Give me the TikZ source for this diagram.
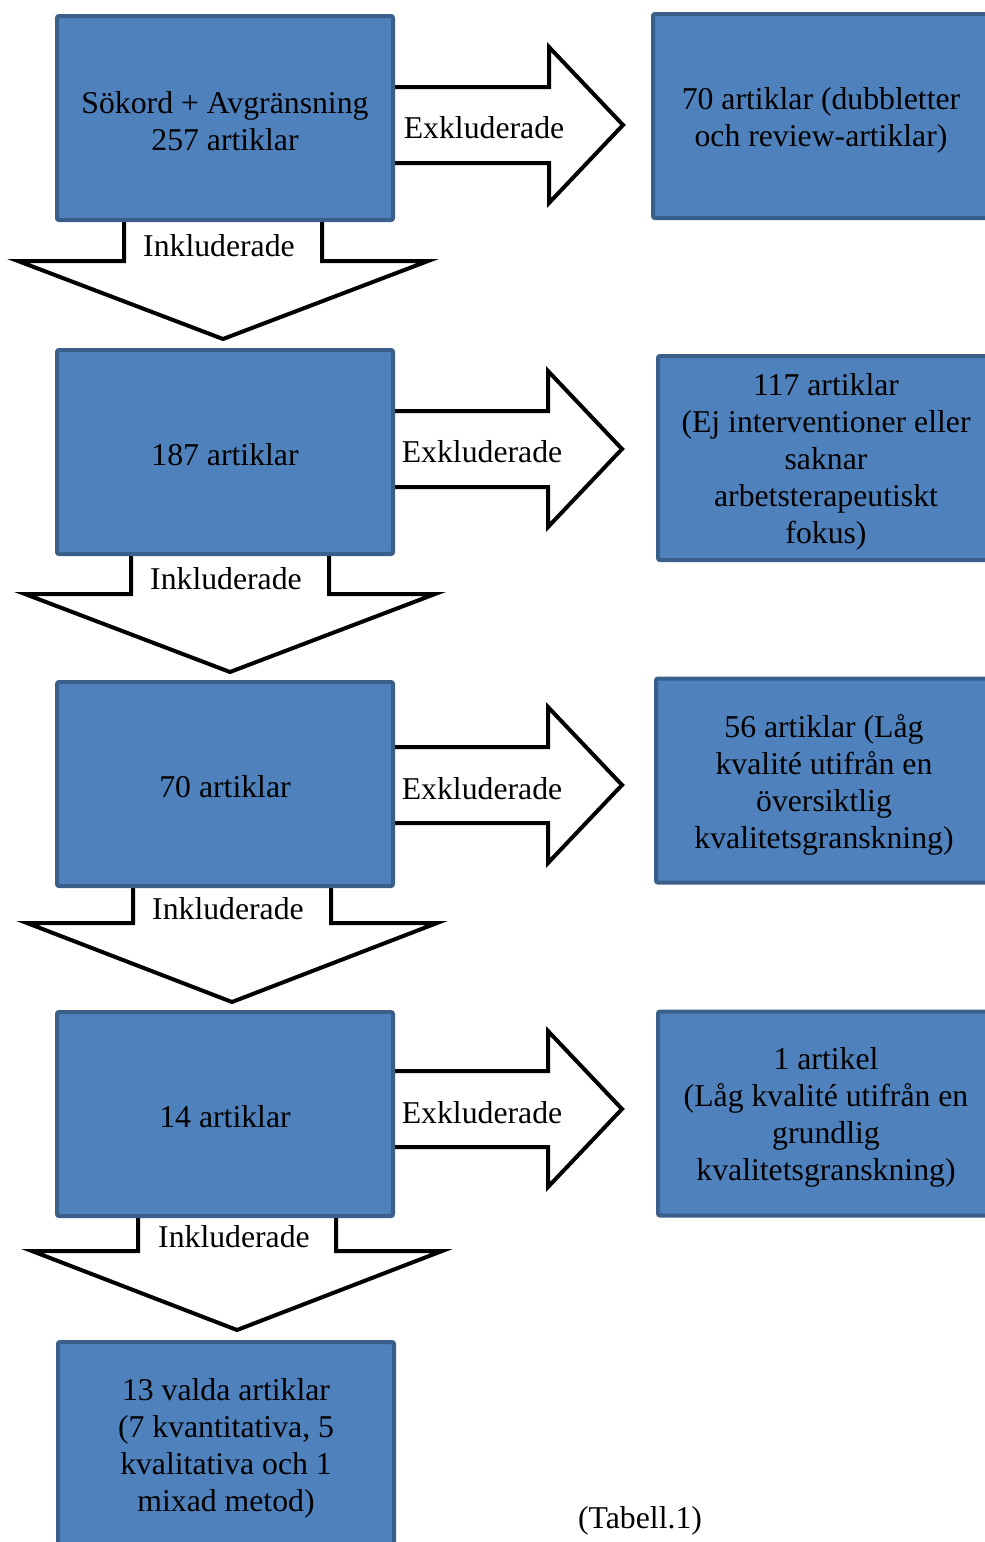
\documentclass[tikz,border=0pt]{standalone}
\usepackage{fontspec}
\setmainfont{Liberation Serif}
\usetikzlibrary{calc}
\definecolor{boxfill}{HTML}{4F81BD}
\definecolor{boxline}{HTML}{3A5F8B}

\begin{document}
\begin{tikzpicture}[x=0.75pt,y=0.75pt,yscale=-1,xscale=1,
  box/.style={draw=boxline, fill=boxfill, line width=3pt, rounded corners=1.5pt,
    minimum width=252pt, minimum height=153pt, inner sep=0pt},
  boxtext/.style={align=center, inner sep=0pt, font=\fontsize{23.8}{27.75}\selectfont},
  blockarrow/.style={draw=black, fill=white, line width=3pt},
  lbl/.style={inner sep=0pt, font=\fontsize{23.8}{27.75}\selectfont}]
\useasboundingbox (0,0) rectangle (985,1542);

%Block Arrows (Exkluderade)
\draw [blockarrow] (385,87) -- (549,87) -- (549,47) -- (623,125) -- (549,203) -- (549,163) -- (385,163) -- cycle ;
\draw [blockarrow] (385,411) -- (548,411) -- (548,371) -- (622,449) -- (548,527) -- (548,487) -- (385,487) -- cycle ;
\draw [blockarrow] (385,747) -- (548,747) -- (548,707) -- (622,785) -- (548,863) -- (548,823) -- (385,823) -- cycle ;
\draw [blockarrow] (385,1071) -- (548,1071) -- (548,1031) -- (622,1109) -- (548,1187) -- (548,1147) -- (385,1147) -- cycle ;

%Block Arrows (Inkluderade)
\draw [blockarrow] (124,212) -- (124,261) -- (18,261) -- (223,339) -- (428,261) -- (322,261) -- (322,212) -- cycle ;
\draw [blockarrow] (131,546) -- (131,594) -- (25,594) -- (230,672) -- (435,594) -- (329,594) -- (329,546) -- cycle ;
\draw [blockarrow] (133,878) -- (133,923) -- (27,923) -- (232,1002) -- (437,923) -- (331,923) -- (331,878) -- cycle ;
\draw [blockarrow] (138,1208) -- (138,1251) -- (32,1251) -- (237,1330) -- (442,1251) -- (336,1251) -- (336,1208) -- cycle ;

% Boxes, left column
\node [box] (sok) at (225,118) {};
\node [box] (a187) at (225,452) {};
\node [box] (a70) at (225,784) {};
\node [box] (a14) at (225,1114) {};
\node [box] (valda) at (226,1444) {};

% Boxes, right column
\node [box] (dubb) at (821,116) {};
\node [box] (ejint) at (826,458) {};
\node [box] (oversikt) at (824,780.5) {};
\node [box] (grundlig) at (826,1113.5) {};

% Text Node
\node [boxtext] (sok-t) at ($(sok.center)+(0,3)$) {Sökord + Avgränsning\\257 artiklar};
\node [boxtext] (a187-t) at ($(a187.center)+(0,3)$) {187 artiklar};
\node [boxtext] (a70-t) at ($(a70.center)+(0,3)$) {70 artiklar};
\node [boxtext] (a14-t) at ($(a14.center)+(0,3)$) {14 artiklar};
\node [boxtext] (valda-t) at ($(valda.center)+(0,4)$) {13 valda artiklar\\(7 kvantitativa, 5\\kvalitativa och 1\\mixad metod)};
\node [boxtext] (dubb-t) at ($(dubb.center)+(0,4)$) {70 artiklar (dubbletter\\och review-artiklar)};
\node [boxtext] (ejint-t) at ($(ejint.center)+(0,4)$) {117 artiklar\\(Ej interventioner eller\\saknar\\arbetsterapeutiskt\\fokus)};
\node [boxtext] (oversikt-t) at ($(oversikt.center)+(0,4)$) {56 artiklar (Låg\\kvalité utifrån en\\översiktlig\\kvalitetsgranskning)};
\node [boxtext] (grundlig-t) at ($(grundlig.center)+(0,4)$) {1 artikel\\(Låg kvalité utifrån en\\grundlig\\kvalitetsgranskning)};

% Text Node
\node [lbl] (ex1) at (484,128) {Exkluderade};
\node [lbl] (ex2) at (482,452) {Exkluderade};
\node [lbl] (ex3) at (482,789) {Exkluderade};
\node [lbl] (ex4) at (482,1113) {Exkluderade};
\node [lbl] (in1) at (219,246) {Inkluderade};
\node [lbl] (in2) at (226,579) {Inkluderade};
\node [lbl] (in3) at (228,909) {Inkluderade};
\node [lbl] (in4) at (234,1237) {Inkluderade};
\node [lbl] (tabell) at (640,1521) {(Tabell.1)};

\end{tikzpicture}
\end{document}
